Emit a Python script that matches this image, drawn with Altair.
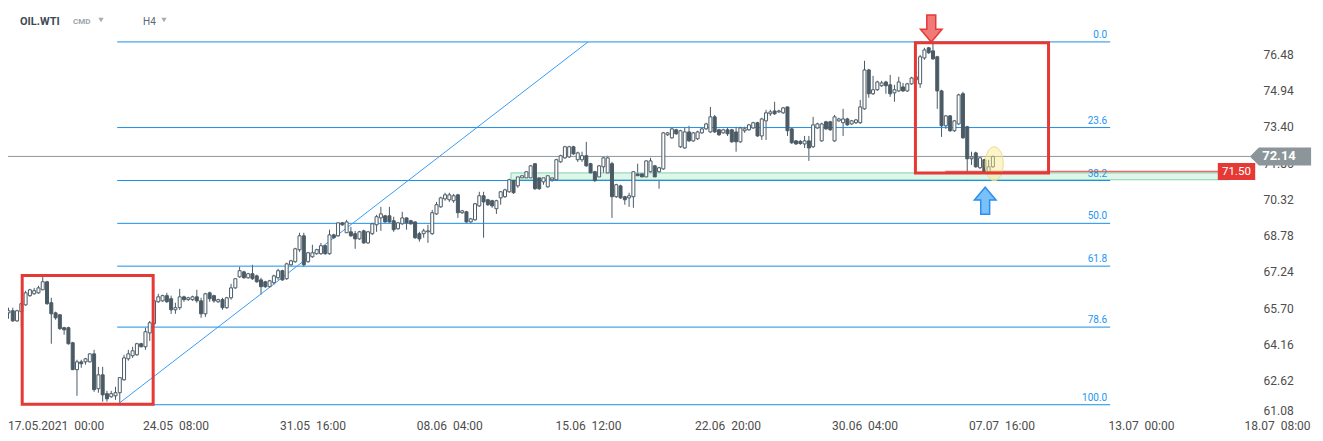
import math
import altair as alt
import pandas as pd

# ---------------- data ----------------
opens = [
    65.50, 65.59, 65.16, 65.55, 65.84, 66.23, 66.31, 66.35, 66.48, 66.82,
    65.93, 65.50, 65.42, 64.87, 64.87, 64.23, 63.09, 63.42, 63.42, 63.42,
    63.76, 62.28, 62.87, 62.07, 61.94, 61.98, 62.11, 62.66, 63.55, 63.68,
    63.72, 64.19, 64.06, 64.65, 65.04, 65.97, 66.01, 66.23, 66.10, 65.63,
    65.72, 66.18, 66.06, 66.06, 66.18, 66.01, 65.46, 66.35, 66.23, 65.97,
    66.06, 65.72, 66.14, 66.56, 67.03, 67.24, 66.99, 67.16, 67.07, 66.90,
    66.82, 66.61, 66.78, 66.99, 67.29, 66.95, 67.54, 67.67, 68.18, 68.77,
    67.67, 67.88, 68.01, 68.01, 68.35, 68.01, 68.81, 68.77, 69.32, 68.90,
    68.94, 68.86, 68.64, 68.98, 68.47, 68.86, 69.24, 69.53, 69.62, 69.62,
    69.41, 69.07, 69.28, 69.53, 69.41, 69.36, 68.86, 68.86, 68.94, 68.86,
    69.70, 70.00, 70.34, 70.30, 70.26, 70.51, 69.75, 69.79, 69.36, 69.45,
    70.04, 70.47, 70.30, 70.26, 69.92, 70.38, 70.43, 70.64, 71.11, 70.89,
    71.23, 71.23, 71.23, 71.83, 71.23, 71.06, 70.85, 71.15, 71.15, 71.91,
    72.08, 72.12, 72.55, 72.00, 72.00, 72.17, 71.83, 71.49, 71.27, 71.70,
    71.44, 71.83, 70.43, 70.89, 70.43, 70.38, 70.43, 71.40, 71.40, 71.27,
    71.49, 71.74, 71.49, 71.61, 73.06, 72.93, 73.27, 72.55, 72.50, 73.18,
    72.80, 72.89, 73.14, 73.31, 73.18, 73.82, 73.27, 73.14, 73.27, 73.27,
    73.18, 72.76, 73.23, 73.27, 73.35, 73.57, 73.01, 73.65, 73.95, 74.07,
    74.03, 73.99, 74.24, 73.31, 72.80, 72.78, 72.67, 72.80, 72.55, 73.35,
    72.80, 73.61, 73.61, 72.80, 73.65, 73.57, 73.73, 73.52, 73.57, 73.57,
    74.16, 75.81, 74.80, 74.97, 75.14, 75.30, 75.18, 74.84, 74.92, 75.09,
    74.92, 75.22, 75.39, 75.22, 76.32, 76.75, 76.62, 76.37, 74.92, 73.44,
    73.86, 73.23, 73.52, 74.80, 73.40, 72.04, 72.29, 71.66, 72.00, 71.49,
    71.70,
]
highs = [
    65.72, 65.72, 65.63, 65.93, 66.44, 66.52, 66.56, 66.65, 67.03, 66.86,
    66.14, 65.55, 65.44, 64.91, 64.91, 64.27, 63.51, 63.51, 63.59, 63.78,
    63.93, 63.21, 63.21, 62.19, 62.19, 62.36, 62.77, 63.72, 63.93, 64.06,
    64.23, 64.23, 64.87, 65.16, 66.06, 66.31, 66.27, 66.35, 66.23, 65.93,
    66.52, 66.23, 66.18, 66.23, 66.48, 66.14, 66.35, 66.40, 66.27, 66.10,
    66.14, 66.18, 66.73, 66.95, 67.46, 67.29, 67.20, 67.54, 67.12, 66.99,
    66.86, 66.90, 67.12, 67.37, 67.33, 67.63, 67.75, 68.26, 68.90, 68.90,
    68.09, 68.39, 68.22, 68.47, 68.39, 69.03, 68.86, 69.32, 69.36, 69.45,
    69.15, 68.98, 68.98, 69.03, 68.98, 69.32, 69.66, 70.00, 69.66, 70.00,
    69.58, 69.36, 69.79, 69.55, 69.45, 69.38, 68.94, 69.07, 69.24, 69.87,
    70.21, 70.43, 70.60, 70.60, 70.55, 70.55, 69.87, 69.83, 69.53, 70.17,
    70.64, 70.64, 70.34, 70.30, 70.30, 70.66, 70.77, 71.19, 71.15, 71.32,
    71.36, 71.51, 71.78, 71.85, 71.27, 71.36, 71.34, 71.25, 72.04, 72.21,
    72.59, 72.59, 72.59, 72.34, 72.34, 72.76, 71.87, 71.53, 71.78, 72.12,
    72.17, 71.91, 70.98, 70.94, 70.47, 70.60, 71.51, 71.83, 71.44, 71.97,
    72.08, 71.78, 71.70, 73.18, 73.18, 73.35, 73.31, 73.27, 73.35, 73.44,
    73.18, 73.23, 73.35, 73.57, 74.24, 73.90, 73.31, 73.31, 73.35, 73.31,
    73.40, 73.40, 73.40, 73.52, 73.61, 73.61, 73.78, 74.12, 74.12, 74.46,
    74.12, 74.24, 74.26, 73.35, 72.84, 72.84, 73.01, 73.01, 73.82, 73.57,
    73.57, 73.65, 73.65, 73.90, 73.78, 74.16, 73.78, 73.69, 73.73, 74.54,
    76.20, 75.86, 75.56, 75.35, 75.35, 75.35, 75.60, 75.18, 75.52, 75.26,
    75.26, 75.52, 75.56, 76.45, 76.75, 76.79, 77.00, 76.41, 74.97, 73.90,
    73.90, 73.69, 74.80, 74.88, 73.44, 72.34, 72.34, 72.12, 72.04, 72.00,
    72.17,
]
lows = [
    65.25, 65.12, 65.12, 64.87, 65.80, 66.18, 66.27, 66.31, 66.46, 65.84,
    64.19, 65.21, 64.78, 64.57, 64.15, 63.07, 61.98, 63.17, 63.30, 63.40,
    62.15, 62.11, 61.73, 61.73, 61.90, 61.81, 61.60, 62.62, 63.47, 63.59,
    63.68, 64.04, 63.93, 64.31, 64.99, 65.93, 65.97, 65.93, 65.46, 65.46,
    65.63, 65.97, 66.01, 66.01, 65.93, 65.29, 65.33, 65.97, 65.93, 65.93,
    65.63, 65.67, 66.06, 66.52, 66.99, 66.95, 66.95, 66.90, 66.78, 66.27,
    66.56, 66.56, 66.69, 66.90, 66.86, 66.90, 67.50, 67.63, 68.09, 67.46,
    67.63, 67.84, 67.97, 67.97, 67.97, 67.97, 68.64, 68.73, 69.19, 68.90,
    68.73, 68.22, 68.60, 68.43, 68.43, 68.81, 68.94, 68.98, 69.32, 69.32,
    68.94, 69.03, 69.24, 69.03, 69.24, 68.64, 68.52, 68.69, 68.47, 68.81,
    69.66, 69.96, 70.26, 70.21, 70.17, 69.53, 69.70, 69.32, 69.32, 69.41,
    70.00, 68.69, 70.04, 69.96, 69.70, 70.09, 70.38, 70.60, 70.55, 70.81,
    71.19, 71.19, 71.19, 70.72, 70.72, 70.94, 70.81, 71.06, 71.11, 71.87,
    72.04, 72.08, 72.21, 71.91, 71.91, 71.70, 71.15, 71.06, 71.23, 71.36,
    71.27, 69.53, 70.38, 70.34, 70.09, 70.00, 69.96, 71.19, 71.23, 71.23,
    71.44, 71.23, 70.77, 71.57, 73.01, 72.89, 73.06, 72.50, 72.46, 72.76,
    72.76, 72.84, 73.10, 73.27, 73.14, 73.14, 73.01, 73.10, 73.01, 72.72,
    72.34, 72.72, 73.14, 73.23, 73.31, 72.97, 72.84, 72.84, 73.86, 73.90,
    73.99, 73.95, 73.01, 72.67, 72.63, 72.63, 72.50, 71.95, 72.50, 73.31,
    72.76, 73.27, 73.23, 72.76, 73.61, 73.01, 73.44, 73.48, 73.52, 73.52,
    74.12, 74.63, 74.75, 74.92, 75.09, 74.80, 74.67, 74.46, 74.88, 74.88,
    74.88, 75.18, 75.35, 75.05, 76.24, 76.49, 76.24, 74.16, 72.97, 73.31,
    73.18, 73.18, 73.48, 72.89, 71.10, 71.78, 71.66, 71.61, 71.15, 71.44,
    71.66,
]
closes = [
    65.59, 65.16, 65.59, 65.89, 66.35, 66.48, 66.44, 66.56, 66.82, 65.89,
    65.46, 65.29, 64.83, 64.78, 64.19, 63.09, 63.42, 63.34, 63.55, 63.76,
    62.24, 62.87, 62.02, 61.85, 62.07, 62.11, 62.75, 63.59, 63.76, 63.89,
    64.19, 64.06, 64.70, 65.08, 66.01, 66.18, 66.23, 65.97, 65.63, 65.72,
    66.18, 66.06, 66.14, 66.18, 66.01, 65.46, 66.31, 66.10, 66.01, 66.06,
    65.72, 66.14, 66.56, 66.95, 67.29, 66.99, 67.16, 66.95, 66.82, 66.61,
    66.61, 66.86, 67.07, 67.29, 66.90, 67.58, 67.71, 68.22, 68.77, 67.54,
    68.05, 68.05, 68.18, 68.35, 68.01, 68.81, 68.69, 69.32, 69.24, 69.36,
    68.77, 68.64, 68.94, 68.47, 68.94, 69.28, 69.58, 69.70, 69.36, 69.36,
    69.03, 69.32, 69.53, 69.32, 69.28, 68.69, 68.64, 68.98, 68.98, 69.75,
    70.09, 70.38, 70.51, 70.51, 70.47, 69.75, 69.83, 69.36, 69.49, 70.13,
    70.47, 70.21, 70.09, 70.04, 70.26, 70.64, 70.72, 71.15, 70.60, 71.27,
    71.32, 71.49, 71.74, 70.77, 70.77, 71.23, 71.32, 71.23, 72.00, 72.17,
    72.55, 72.55, 72.25, 72.29, 72.17, 71.74, 71.44, 71.11, 71.74, 72.08,
    72.08, 70.43, 70.94, 70.38, 70.30, 70.47, 71.49, 71.32, 71.27, 71.95,
    71.95, 71.27, 71.66, 73.14, 73.14, 73.31, 73.10, 73.23, 73.18, 72.80,
    73.14, 73.18, 73.31, 73.52, 73.82, 73.18, 73.06, 73.27, 73.10, 72.76,
    72.76, 73.35, 73.31, 73.48, 73.57, 73.01, 73.73, 73.99, 74.03, 73.95,
    74.07, 74.20, 73.23, 72.72, 72.67, 72.69, 72.80, 72.50, 73.48, 73.52,
    73.52, 73.31, 73.27, 73.82, 73.73, 73.73, 73.48, 73.65, 73.69, 74.24,
    75.81, 74.80, 74.97, 75.30, 75.26, 75.14, 74.80, 74.97, 75.30, 74.92,
    75.22, 75.47, 75.52, 76.37, 76.66, 76.54, 76.28, 74.92, 73.44, 73.86,
    73.23, 73.65, 74.75, 72.93, 72.04, 72.12, 71.70, 72.08, 71.44, 71.70,
    72.14,
]

y_tick_values = [61.08, 62.62, 64.16, 65.70, 67.24, 68.78, 70.32, 71.86, 73.40, 74.94, 76.48]
x_tick_positions = [11, 39, 71, 103, 135.4, 168, 200, 232, 264.6, 296.4]
x_tick_labels = ["17.05.2021\u00a0 00:00", "24.05\u00a0 08:00", "31.05\u00a0 16:00", "08.06\u00a0 04:00",
                 "15.06\u00a0 12:00", "22.06\u00a0 20:00", "30.06\u00a0 04:00", "07.07\u00a0 16:00",
                 "13.07\u00a0 00:00", "18.07\u00a0 08:00"]

fib_high, fib_low = 77.00, 61.60
fib_start, fib_end = 25.4, 257.4
fib_levels = [0.0, 23.6, 38.2, 50.0, 61.8, 78.6, 100.0]
fib_names = ["0.0", "23.6", "38.2", "50.0", "61.8", "78.6", "100.0"]

trend_x = [25.4, 135.4]
trend_y = [61.60, 77.00]

box_x1 = [3.2, 211.9]
box_x2 = [33.8, 243.0]
box_y1 = [61.62, 71.44]
box_y2 = [67.09, 76.96]

zone_x = [117.4, 285.5]
zone_y = [71.15, 71.44]

last_price = 72.14
level_price = 71.50
level_x = [218.9, 282.6]

arrow_down = (215.6, 77.57)
arrow_up = (228.2, 70.26)
ellipse_at = (230.3, 71.83)

# ---------------- styling ----------------
DARK = "#4b5b66"
BLUE = "#1a8fe8"
LBLUE = "#2196f3"
RED = "#e53935"
W, H = 1300, 409
STEP = 4.280
D0 = -0.5 / STEP

xs = alt.Scale(domain=[D0, D0 + W / STEP], nice=False, zero=False, padding=0)
ys = alt.Scale(domain=[61.08, 78.44], nice=False, zero=False, padding=0)

label_expr = " : ".join(f"datum.value == {p} ? '{l}'" for p, l in zip(x_tick_positions, x_tick_labels)) + " : ''"

x_axis = alt.Axis(values=x_tick_positions, labelExpr=label_expr, grid=False, ticks=False, domain=False,
                  title=None, labelPadding=3, labelFont="Roboto", labelFontSize=12, labelColor="#4d4d4d",
                  labelFlush=False, labelOverlap=False)
y_axis = alt.Axis(values=y_tick_values, orient="right", offset=-45, grid=False, ticks=False,
                  domain=False, title=None, labelPadding=0, labelAlign="left", labelFont="Roboto",
                  labelFontSize=12, labelColor="#4d4d4d", labelFlush=True, labelOverlap=False, format=".2f")


def X(f):
    return alt.X(f, type="quantitative", scale=xs, axis=x_axis)


def Y(f):
    return alt.Y(f, type="quantitative", scale=ys, axis=y_axis)


cdf = pd.DataFrame({"i": list(range(len(opens))), "o": opens, "h": highs, "l": lows, "c": closes})
cdf["top"] = cdf[["o", "c"]].max(axis=1)
cdf["bot"] = cdf[["o", "c"]].min(axis=1)

fdf = pd.DataFrame({"lvl": fib_levels, "name": fib_names})
fdf["p"] = fib_high - fdf["lvl"] / 100.0 * (fib_high - fib_low)
fdf["x1"] = fib_start
fdf["x2"] = fib_end

zone = alt.Chart(pd.DataFrame({"x1": [zone_x[0]], "x2": [zone_x[1]], "y1": [zone_y[0]], "y2": [zone_y[1]]})).mark_rect(
    fill="#e0f6ec", stroke="#7fd4ab", strokeWidth=1).encode(x=X("x1"), x2="x2:Q", y=Y("y1"), y2="y2:Q")

fib_rules = alt.Chart(fdf).mark_rule(color=BLUE, strokeWidth=1).encode(x=X("x1"), x2="x2:Q", y=Y("p"))
fib_text = alt.Chart(fdf).mark_text(align="right", baseline="alphabetic", dx=-3, dy=-4, fontSize=10,
                                   font="Roboto", color=LBLUE).encode(x=X("x2"), y=Y("p"), text="name:N")

trend = alt.Chart(pd.DataFrame({"x1": [trend_x[0]], "x2": [trend_x[1]], "y1": [trend_y[0]], "y2": [trend_y[1]]})).mark_rule(
    color="#3a9cf5", strokeWidth=1).encode(x=X("x1"), x2="x2:Q", y=Y("y1"), y2="y2:Q")

pdf = pd.DataFrame({"p": [last_price], "t": [f"{last_price:.2f}"]})
price_line = alt.Chart(pdf).mark_rule(color="#8e979d", strokeWidth=1).encode(
    x=alt.value(0), x2=alt.value(1242), y=Y("p"))

ldf = pd.DataFrame({"x1": [level_x[0]], "x2": [level_x[1]], "p": [level_price], "t": [f"{level_price:.2f}"]})
level_line = alt.Chart(ldf).mark_rule(color=RED, strokeWidth=1.5, opacity=0.75).encode(
    x=X("x1"), x2="x2:Q", y=Y("p"))

wicks = alt.Chart(cdf).mark_rule(color=DARK, strokeWidth=1).encode(x=X("i"), y=Y("l"), y2="h:Q")
bodies = alt.Chart(cdf).mark_bar(width=3, stroke=DARK, strokeWidth=1).encode(
    x=X("i"), y=Y("bot"), y2="top:Q",
    fill=alt.condition("datum.c >= datum.o", alt.value("#ffffff"), alt.value(DARK)))

# ellipse highlight
pts = []
for k in range(32):
    a = 2 * math.pi * k / 32
    pts.append(f"{0.53 * math.cos(a):.3f} {math.sin(a):.3f}")
ELLIPSE = "M " + " L ".join(pts) + " Z"
ell = alt.Chart(pd.DataFrame({"x": [ellipse_at[0]], "y": [ellipse_at[1]]})).mark_point(
    shape=ELLIPSE, size=1156, filled=True, fill="#fbe98a", fillOpacity=0.45, stroke="#efd98f",
    strokeWidth=1, opacity=1).encode(x=X("x"), y=Y("y"))

bdf = pd.DataFrame({"x1": box_x1, "x2": box_x2, "y1": box_y1, "y2": box_y2})
boxes = alt.Chart(bdf).mark_rect(fillOpacity=0, stroke=RED, strokeWidth=3).encode(
    x=X("x1"), x2="x2:Q", y=Y("y1"), y2="y2:Q")

DOWN = "M -0.33 -1 L 0.33 -1 L 0.33 0.05 L 0.8 0.05 L 0 1 L -0.8 0.05 L -0.33 0.05 Z"
UP = "M -0.33 1 L 0.33 1 L 0.33 -0.05 L 0.8 -0.05 L 0 -1 L -0.8 -0.05 L -0.33 -0.05 Z"
arr_d = alt.Chart(pd.DataFrame({"x": [arrow_down[0]], "y": [arrow_down[1]]})).mark_point(
    shape=DOWN, size=729, filled=True, fill="#f07a78", stroke=RED, strokeWidth=1.5, opacity=1).encode(
    x=X("x"), y=Y("y"))
arr_u = alt.Chart(pd.DataFrame({"x": [arrow_up[0]], "y": [arrow_up[1]]})).mark_point(
    shape=UP, size=729, filled=True, fill="#7cc0f8", stroke="#2b8ff0", strokeWidth=1.5, opacity=1).encode(
    x=X("x"), y=Y("y"))

TAG = "M -3.4 0 L -2.4 -1 L 3.4 -1 L 3.4 1 L -2.4 1 Z"
tag = alt.Chart(pdf).mark_point(shape=TAG, size=324, filled=True, color="#8c959a", opacity=1).encode(
    x=alt.value(1272.5), y=Y("p"))
tag_text = alt.Chart(pdf).mark_text(color="white", fontWeight="bold", fontSize=13, font="Roboto").encode(
    x=alt.value(1271), y=Y("p"), text="t:N")

RBOX = "M -2.2 -1 L 2.2 -1 L 2.2 1 L -2.2 1 Z"
lvl_tag = alt.Chart(ldf).mark_point(shape=RBOX, size=289, filled=True, color=RED, opacity=1).encode(
    x=alt.value(1228.5), y=Y("p"))
lvl_text = alt.Chart(ldf).mark_text(color="white", fontSize=11.5, font="Roboto").encode(
    x=alt.value(1228.5), y=Y("p"), text="t:N")

# header
h1 = alt.Chart(pd.DataFrame({"t": ["OIL.WTI"]})).mark_text(
    align="left", fontSize=11, fontWeight="bold", font="Roboto", color="#3d4a54").encode(
    x=alt.value(12), y=alt.value(14), text="t:N")
h2 = alt.Chart(pd.DataFrame({"t": ["CMD"]})).mark_text(
    align="left", fontSize=8, fontWeight="bold", font="Roboto", color="#9aa6b0").encode(
    x=alt.value(65), y=alt.value(14), text="t:N")
h3 = alt.Chart(pd.DataFrame({"t": ["H4"]})).mark_text(
    align="left", fontSize=10, font="Roboto", color="#5a6670").encode(
    x=alt.value(135), y=alt.value(14), text="t:N")
tri1 = alt.Chart(pd.DataFrame({"t": ["a"]})).mark_point(
    shape="triangle-down", size=28, filled=True, color="#a3adb5", opacity=1).encode(
    x=alt.value(93), y=alt.value(12))
tri2 = alt.Chart(pd.DataFrame({"t": ["b"]})).mark_point(
    shape="triangle-down", size=28, filled=True, color="#a3adb5", opacity=1).encode(
    x=alt.value(156), y=alt.value(12))

chart = alt.layer(
    wicks, zone, fib_rules, fib_text, trend, price_line, level_line, bodies, ell, boxes,
    arr_d, arr_u, tag, tag_text, lvl_tag, lvl_text, h1, h2, h3, tri1, tri2
).properties(
    width=W, height=H, background="white",
    autosize=alt.AutoSizeParams(type="none"),
    padding={"left": 0, "top": 0, "right": 6, "bottom": 16},
).configure_view(stroke=None)

chart.save("out.html", embed_options={"renderer": "svg", "actions": False})
